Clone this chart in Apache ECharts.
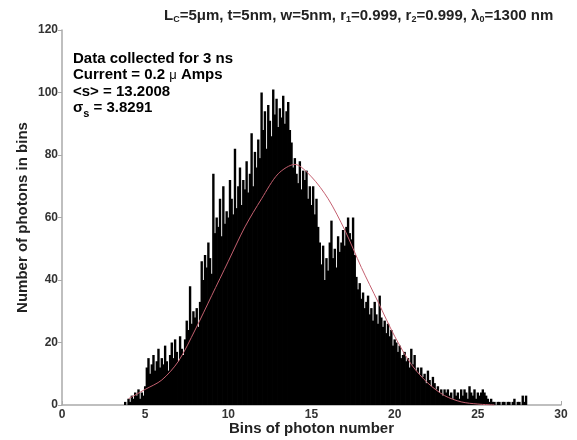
<!DOCTYPE html>
<html>
<head>
<meta charset="utf-8">
<script src="https://cdn.jsdelivr.net/npm/echarts@6/dist/echarts.min.js"></script>
<style>
  html, body { margin: 0; padding: 0; background: #fff; }
  #chart { width: 577px; height: 440px; }
</style>
</head>
<body>
<div id="chart"></div>
<script>
// Histogram definition: bins of width 0.1 starting at 3.8
const binStart = 3.8;
const binWidth = 0.1;
const binCounts = [
  1, 0, 2, 1, 3,
  2, 4, 3, 5, 2, 4, 3,
  6, 12, 15, 10, 13,
  16, 11, 14, 18, 12, 15,
  13, 19, 14, 11, 16,
  20, 15, 21, 17, 14,
  22, 18, 16, 21,
  27, 24, 38, 26, 30, 28,
  31, 25, 33, 46, 40,
  48, 44, 52, 47, 42,
  74, 55, 60, 57, 66,
  54, 70, 58, 62, 60,
  72, 66, 61, 82, 63,
  70, 76, 64, 72, 69,
  78, 68, 74, 87, 70,
  81, 76, 85, 79, 100,
  88, 94, 82, 96, 91,
  86, 101, 93, 98, 89,
  95, 92, 99, 90, 94,
  97, 88, 84, 76, 79,
  74, 71, 78, 69, 75,
  72, 75, 66, 70, 64,
  70, 61, 66, 57, 52,
  45, 51, 40, 47, 43,
  52, 59, 47, 50, 44,
  54, 49, 52, 56, 51,
  57, 60, 55, 53, 60,
  48, 41, 37, 39, 34,
  36, 31, 33, 35, 29,
  31, 27, 33, 29, 26,
  35, 28, 25, 27, 23,
  26, 22, 24, 19, 21,
  20, 17, 19, 15, 16,
  17, 14, 15, 12, 18,
  13, 16, 11, 12, 10,
  12, 9, 10, 7, 11,
  8, 6, 9, 7, 5,
  6, 4, 5, 3, 5,
  4, 5, 3, 4, 2,
  5, 3, 4, 2, 5,
  3, 5, 4, 2, 6,
  4, 3, 5, 2, 4,
  3, 4, 5, 4, 3,
  2, 1, 2, 1, 1,
  0, 1, 1, 0, 1,
  1, 0, 1, 1, 0,
  1, 2, 0, 1, 1,
  0, 3, 1, 3, 0
];

// Fitted distribution (red curve)
const fitX = [4, 5, 6, 7, 8, 9, 10, 11, 12, 13, 14, 15, 16, 17, 18, 19, 20, 21, 22, 23, 24, 25, 26];
const fitY = [2, 5, 8, 14, 24, 35, 46, 57, 66, 74, 77, 73, 66, 56, 44, 33, 22, 13, 7, 3, 1, 0.3, 0];

const xAxisMin = 0, xAxisMax = 30, xAxisStep = 5;
const yAxisMin = 0, yAxisMax = 120, yAxisStep = 20;

const barData = binCounts.map((c, i) => [+(binStart + i * binWidth).toFixed(2), c]);
const fitData = fitX.map((x, i) => [x, fitY[i]]);

const FONT = 'Liberation Sans, Arial, sans-serif';

const chart = echarts.init(document.getElementById('chart'), null, { renderer: 'canvas' });
chart.setOption({
  animation: false,
  backgroundColor: '#ffffff',
  title: {
    left: 159,
    top: 3,
    text: '{n|L}{s|C}{n|=5\u03bcm, t=5nm, w=5nm, r}{s|1}{n|=0.999, r}{s|2}{n|=0.999, \u03bb}{s|0}{n|=1300 nm}',
    textStyle: {
      rich: {
        n: { fontFamily: FONT, fontWeight: 'bold', fontSize: 15, color: '#222' },
        s: { fontFamily: FONT, fontWeight: 'bold', fontSize: 9, color: '#222', verticalAlign: 'bottom', padding: [7, 0, 0, 0] }
      }
    }
  },
  grid: { left: 62, right: 16, top: 30, bottom: 35, outerBoundsMode: 'none', containLabel: false },
  xAxis: {
    type: 'value',
    min: xAxisMin, max: xAxisMax, interval: xAxisStep,
    name: 'Bins of photon number',
    nameLocation: 'middle',
    nameGap: 16,
    nameMoveOverlap: false,
    nameTextStyle: { fontFamily: FONT, fontWeight: 'bold', fontSize: 15, color: '#222' },
    axisLine: { show: true, lineStyle: { color: '#aaa', width: 1.5 } },
    axisTick: { show: true, inside: true, length: 4, lineStyle: { color: '#aaa' } },
    axisLabel: { fontFamily: FONT, fontWeight: 'bold', fontSize: 12, color: '#333', margin: 4 },
    splitLine: { show: false }
  },
  yAxis: {
    type: 'value',
    min: yAxisMin, max: yAxisMax, interval: yAxisStep,
    name: 'Number of photons in bins',
    nameLocation: 'middle',
    nameGap: 32,
    nameMoveOverlap: false,
    nameRotate: 90,
    nameTextStyle: { fontFamily: FONT, fontWeight: 'bold', fontSize: 15, color: '#222' },
    axisLine: { show: true, lineStyle: { color: '#aaa', width: 1.5 } },
    axisTick: { show: true, inside: false, length: 4, lineStyle: { color: '#aaa' } },
    axisLabel: { fontFamily: FONT, fontWeight: 'bold', fontSize: 12, color: '#333', margin: 4 },
    splitLine: { show: false }
  },
  graphic: [{
    type: 'text',
    left: 73,
    top: 51,
    style: {
      text: '{n|Data collected for 3 ns}\n{n|Current = 0.2 }{m|\u03bc}{n| Amps}\n{n|<s> = 13.2008}\n{n|\u03c3}{s|s}{n| = 3.8291}',
      rich: {
        n: { fontFamily: FONT, fontWeight: 'bold', fontSize: 15, color: '#222', lineHeight: 16.5 },
        m: { fontFamily: FONT, fontSize: 13, color: '#222', lineHeight: 16.5 },
        s: { fontFamily: FONT, fontWeight: 'bold', fontSize: 11, color: '#222', lineHeight: 16.5, padding: [12, 0, 0, 0] }
      }
    }
  }],
  series: [
    {
      type: 'bar',
      data: barData,
      barWidth: 2.4,
      itemStyle: { color: '#000' },
      silent: true
    },
    {
      type: 'line',
      data: fitData,
      showSymbol: false,
      smooth: 0.3,
      lineStyle: { color: '#c46070', width: 1 },
      z: 5,
      silent: true
    }
  ]
});
</script>
</body>
</html>
